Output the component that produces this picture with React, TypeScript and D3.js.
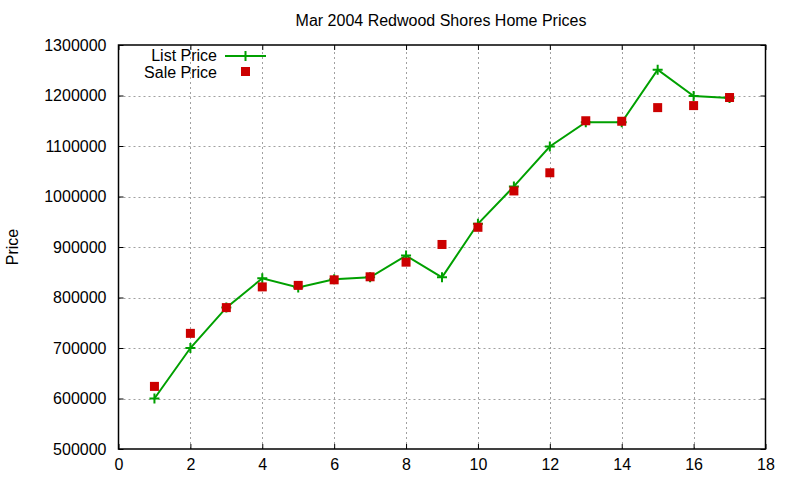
import React, { useEffect, useRef } from 'react'
import * as d3 from 'd3'

const houses = [1, 2, 3, 4, 5, 6, 7, 8, 9, 10, 11, 12, 13, 14, 15, 16, 17]
const listPrices = [
  600000, 700000, 780000, 838000, 820000, 836000, 840000, 883000, 840000, 946000, 1020000, 1099000, 1147000,
  1147000, 1251000, 1199000, 1195000
]
const salePrices = [
  624000, 729000, 780000, 821000, 824000, 835000, 841000, 870000, 905000, 939000, 1011000, 1047000, 1150000,
  1149000, 1176000, 1180000, 1196000
]
const xTicks = [0, 2, 4, 6, 8, 10, 12, 14, 16, 18]
const yTicks = [500000, 600000, 700000, 800000, 900000, 1000000, 1100000, 1200000, 1300000]

const GREEN = '#00a000'
const RED = '#cc0000'
const FONT = '"Liberation Sans", Arial, sans-serif'

export default function App() {
  const ref = useRef<SVGSVGElement | null>(null)

  useEffect(() => {
    if (!ref.current) {
      return
    }
    const width = 800
    const height = 480
    const margin = { top: 45, right: 34.5, bottom: 31, left: 118.5 }
    const svg = d3.select(ref.current)
    svg.selectAll('*').remove()

    const x = d3.scaleLinear().domain([0, 18]).range([margin.left, width - margin.right])
    const y = d3.scaleLinear().domain([500000, 1300000]).range([height - margin.bottom, margin.top])

    svg.append('rect').attr('width', width).attr('height', height).attr('fill', '#fff')

    // grid
    const grid = svg.append('g').attr('stroke', '#a0a0a0').attr('stroke-width', 1).attr('stroke-dasharray', '2,3')
    grid
      .selectAll('line.gx')
      .data(xTicks.slice(1, -1))
      .enter()
      .append('line')
      .attr('x1', (d) => Math.round(x(d)) + 0.5)
      .attr('x2', (d) => Math.round(x(d)) + 0.5)
      .attr('y1', y(500000))
      .attr('y2', y(1300000))
    grid
      .selectAll('line.gy')
      .data(yTicks.slice(1, -1))
      .enter()
      .append('line')
      .attr('x1', x(0))
      .attr('x2', x(18))
      .attr('y1', (d) => Math.round(y(d)) + 0.5)
      .attr('y2', (d) => Math.round(y(d)) + 0.5)

    // axes (ticks inward, mirrored)
    const tickLen = 5
    const left = svg.append('g').attr('transform', `translate(${x(0)},0)`).call(d3.axisLeft(y).tickValues(yTicks).tickSize(-tickLen).tickPadding(12).tickFormat((d) => String(d)))
    const right = svg.append('g').attr('transform', `translate(${x(18)},0)`).call(d3.axisRight(y).tickValues(yTicks).tickSize(-tickLen).tickFormat(() => ''))
    const bottom = svg.append('g').attr('transform', `translate(0,${y(500000)})`).call(d3.axisBottom(x).tickValues(xTicks).tickSize(-tickLen).tickPadding(10).tickFormat((d) => String(d)))
    const top = svg.append('g').attr('transform', `translate(0,${y(1300000)})`).call(d3.axisTop(x).tickValues(xTicks).tickSize(-tickLen).tickFormat(() => ''))
    ;[left, right, bottom, top].forEach((g) => {
      g.select('.domain').remove()
      g.selectAll('line').attr('stroke', '#000').attr('stroke-width', 1)
      g.selectAll('text').attr('font-family', FONT).attr('font-size', 16).attr('fill', '#000')
    })

    svg
      .append('rect')
      .attr('x', x(0))
      .attr('y', y(1300000))
      .attr('width', x(18) - x(0))
      .attr('height', y(500000) - y(1300000))
      .attr('fill', 'none')
      .attr('stroke', '#000')
      .attr('stroke-width', 1.5)

    // title and label
    svg
      .append('text')
      .attr('x', 441)
      .attr('y', 26)
      .attr('text-anchor', 'middle')
      .attr('font-family', FONT)
      .attr('font-size', 16)
      .text('Mar 2004 Redwood Shores Home Prices')
    svg
      .append('text')
      .attr('transform', `translate(18,${(y(500000) + y(1300000)) / 2}) rotate(-90)`)
      .attr('text-anchor', 'middle')
      .attr('font-family', FONT)
      .attr('font-size', 16)
      .text('Price')

    const listData = houses.map((h, i) => ({ h, v: listPrices[i] }))
    const saleData = houses.map((h, i) => ({ h, v: salePrices[i] }))

    const line = d3
      .line<{ h: number; v: number }>()
      .x((d) => x(d.h))
      .y((d) => y(d.v))
    svg.append('path').datum(listData).attr('d', line).attr('fill', 'none').attr('stroke', GREEN).attr('stroke-width', 2)

    const plus = (g: d3.Selection<SVGGElement, unknown, null, undefined>, cx: number, cy: number) => {
      g.append('path')
        .attr('d', `M${cx - 5},${cy}H${cx + 5}M${cx},${cy - 5}V${cy + 5}`)
        .attr('stroke', GREEN)
        .attr('stroke-width', 2)
    }
    const marks = svg.append('g')
    listData.forEach((d) => plus(marks, x(d.h), y(d.v)))

    svg
      .append('g')
      .selectAll('rect')
      .data(saleData)
      .enter()
      .append('rect')
      .attr('x', (d) => x(d.h) - 4.5)
      .attr('y', (d) => y(d.v) - 4.5)
      .attr('width', 9)
      .attr('height', 9)
      .attr('fill', RED)

    // legend
    const legend = svg.append('g').attr('font-family', FONT).attr('font-size', 16)
    legend.append('text').attr('x', 217).attr('y', 61).attr('text-anchor', 'end').text('List Price')
    legend.append('line').attr('x1', 225).attr('x2', 266).attr('y1', 56).attr('y2', 56).attr('stroke', GREEN).attr('stroke-width', 2)
    plus(legend, 245.5, 56)
    legend.append('text').attr('x', 217).attr('y', 78).attr('text-anchor', 'end').text('Sale Price')
    legend.append('rect').attr('x', 241).attr('y', 67).attr('width', 9).attr('height', 9).attr('fill', RED)
  }, [])

  return <svg ref={ref} width={800} height={480} style={{ display: 'block', position: 'absolute', left: 0, top: 0 }} />
}
